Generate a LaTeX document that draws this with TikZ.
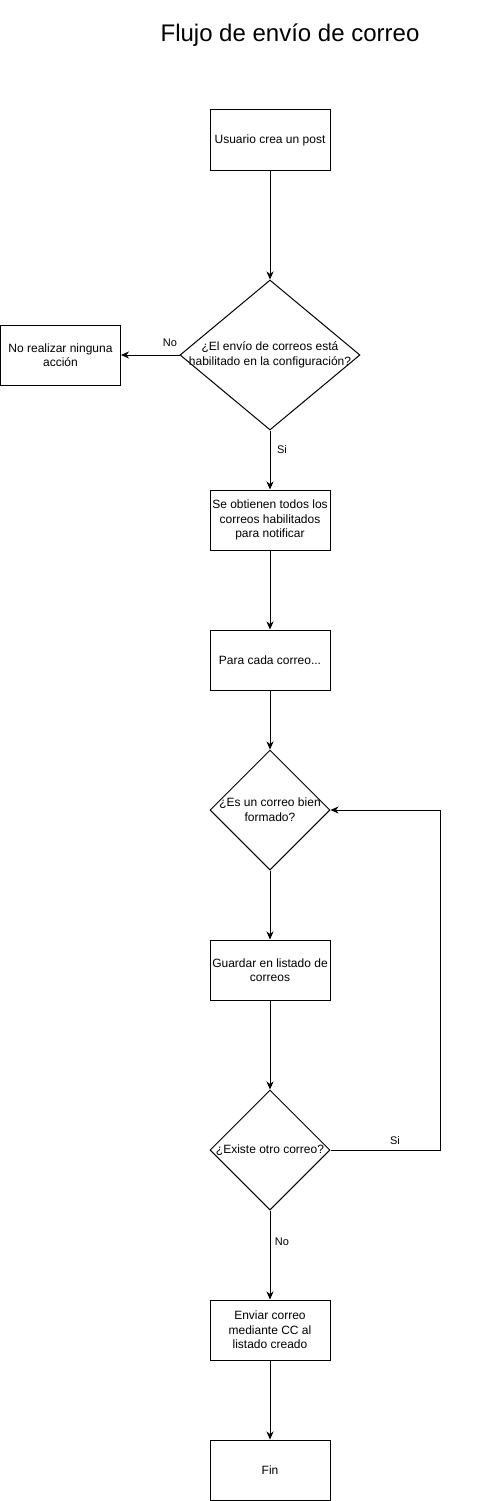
\documentclass[tikz,border=0pt]{standalone}
\usepackage{fontspec}
\setmainfont{Liberation Sans}
\usetikzlibrary{shapes.geometric,arrows.meta}
\begin{document}
\begin{tikzpicture}[x=1pt,y=-1pt,
  box/.style={draw,line width=1pt,minimum width=120pt,minimum height=60pt,inner sep=0pt,align=center,font=\fontsize{12}{14.5}\selectfont},
  dia/.style={draw,diamond,line width=1pt,inner sep=0pt,aspect=1},
  dtext/.style={align=center,inner sep=0pt,font=\fontsize{12}{15}\selectfont},
  lbl/.style={inner sep=0pt,font=\fontsize{11}{13}\selectfont},
  arr/.style={line width=1pt,-{Stealth[length=8pt,width=7pt,inset=2.5pt]}},
  ln/.style={line width=1pt}]
\useasboundingbox (0,0) rectangle (491,1501);
\node[inner sep=0pt,font=\fontsize{24}{28}\selectfont] (title) at (290,35) {Flujo de envío de correo};
\node[box] (b1) at (270,140) {Usuario crea un post};
\node[dia,minimum width=180pt,minimum height=150pt] (d1) at (270,355) {};
\node[dtext] (d1t) at (270,355) {¿El envío de correos está\\habilitado en la configuración?};
\node[box] (no1) at (60.5,355) {No realizar ninguna\\acción};
\node[box] (b2) at (270,520) {Se obtienen todos los\\correos habilitados\\para notificar};
\node[box] (b3) at (270,660) {Para cada correo...};
\node[dia,minimum width=120pt,minimum height=120pt] (d2) at (270,810) {};
\node[dtext] (d2t) at (270,810) {¿Es un correo bien\\formado?};
\node[box] (b4) at (270,970) {Guardar en listado de\\correos};
\node[dia,minimum width=120pt,minimum height=120pt] (d3) at (270,1150) {};
\node[dtext] (d3t) at (270,1150) {¿Existe otro correo?};
\node[box] (b5) at (270,1330) {Enviar correo\\mediante CC al\\listado creado};
\node[box] (b6) at (270,1470) {Fin};
\coordinate (lp) at (440,1150);
\draw[arr] (b1.south) -- (d1.north);
\draw[arr] (d1.west) -- (no1.east);
\draw[arr] (d1.south) -- (b2.north);
\draw[arr] (b2.south) -- (b3.north);
\draw[arr] (b3.south) -- (d2.north);
\draw[arr] (d2.south) -- (b4.north);
\draw[arr] (b4.south) -- (d3.north);
\draw[arr] (d3.south) -- (b5.north);
\draw[arr] (b5.south) -- (b6.north);
\draw[arr] (d3.east) -- (lp) |- (d2.east);
\node[lbl] (lno1) at (170,343) {No};
\node[lbl] (lsi1) at (282,450) {Si};
\node[lbl] (lsi2) at (395,1141) {Si};
\node[lbl] (lno2) at (282,1242) {No};
\end{tikzpicture}
\end{document}
